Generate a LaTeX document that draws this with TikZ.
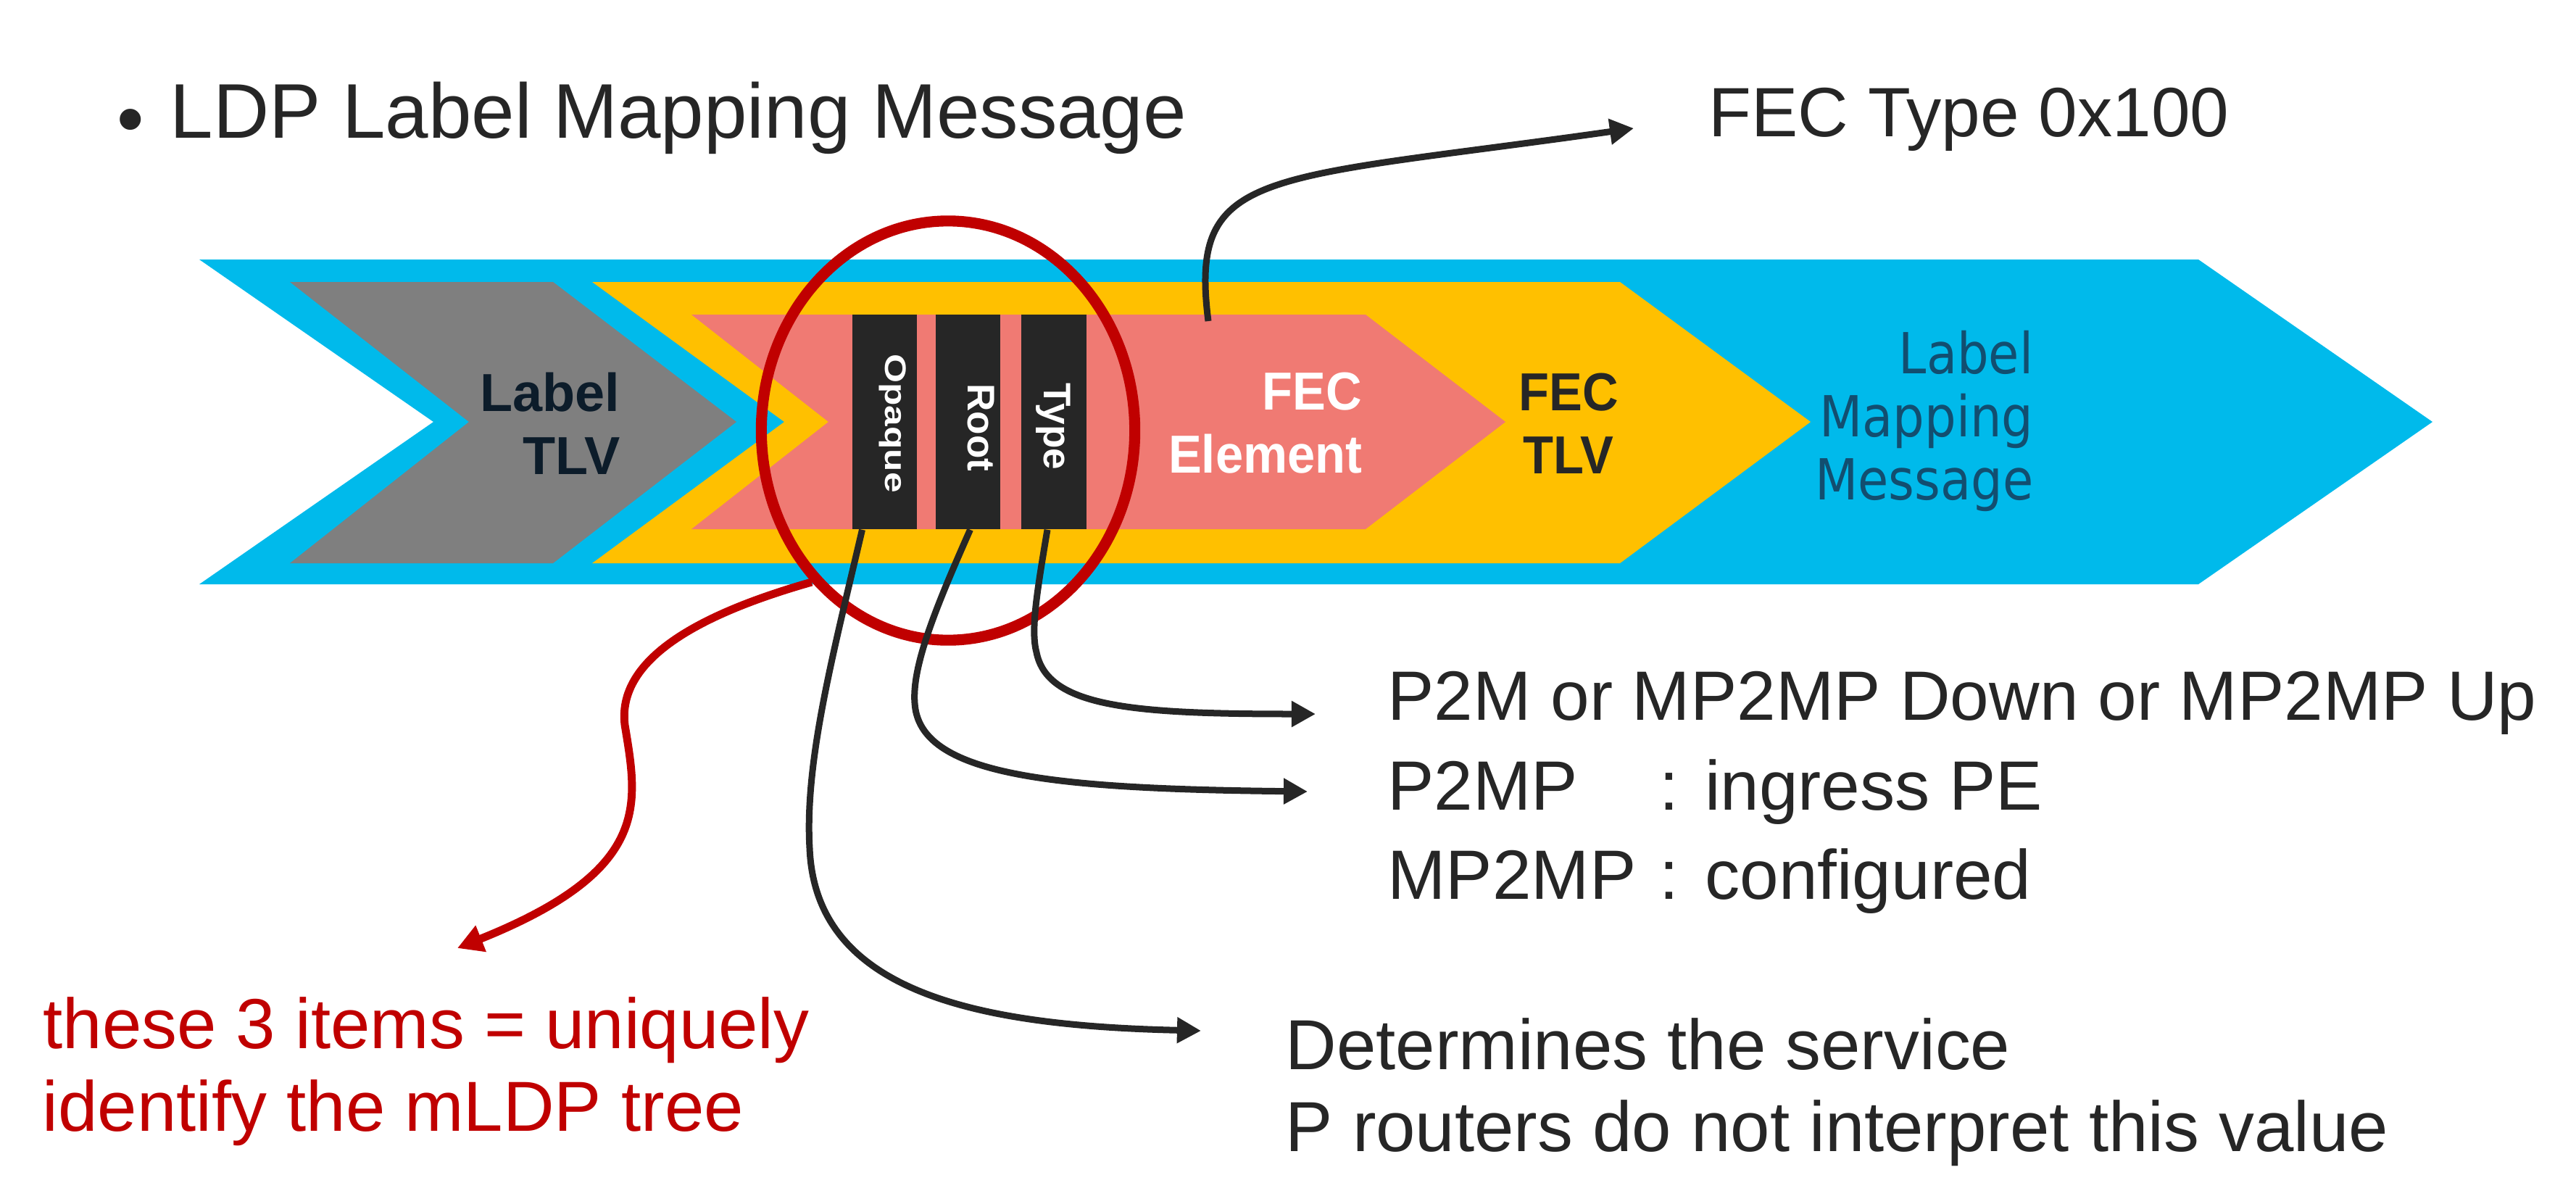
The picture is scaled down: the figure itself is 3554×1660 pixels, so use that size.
\documentclass[tikz,border=0pt]{standalone}
\usepackage{fontspec}
\setmainfont{Liberation Sans}
\newfontfamily\msgfont[FakeStretch=0.88]{DejaVu Sans}
\newfontfamily\narrowfont[FakeStretch=0.93]{Liberation Sans}
\usetikzlibrary{positioning, arrows.meta, calc, shapes.geometric}

\definecolor{msgblue}{RGB}{0,186,235}
\definecolor{tlvyellow}{RGB}{255,192,0}
\definecolor{lblgray}{RGB}{127,127,127}
\definecolor{fecpink}{RGB}{240,122,115}
\definecolor{barblack}{RGB}{38,38,38}
\definecolor{inkdark}{RGB}{38,38,38}
\definecolor{ringred}{RGB}{192,0,0}
\definecolor{msgtext}{RGB}{18,78,112}
\definecolor{tlvnavy}{RGB}{12,28,42}

\newcommand{\txtbody}{\fontsize{27.4}{32}\selectfont}
\newcommand{\txtnote}{\fontsize{27.8}{32}\selectfont}
\newcommand{\txttitle}{\fontsize{30.4}{36}\selectfont}

\begin{document}
\begin{tikzpicture}[x=0.01cm, y=-0.01cm,
    >={Triangle[length=9.4pt, width=9.7pt]},
    every node/.style={inner sep=0pt, text=inkdark},
    bar/.style={fill=barblack, minimum width=0.89cm, minimum height=2.96cm},
    bartext/.style={rotate=-90, anchor=base, text=white, font=\fontsize{15.1}{18}\selectfont\bfseries},
    boxlabel/.style={align=right, font=\fontsize{21}{24.75}\selectfont\bfseries},
    desc/.style={anchor=base west, font=\txtbody},
    conn/.style={draw=inkdark, line width=2.56pt, ->},
    redconn/.style={draw=ringred, line width=3.1pt, -{Triangle[length=10pt, width=10.5pt]}}]
    \useasboundingbox (0,0) rectangle (3554,1660);
    % Title
    \node[anchor=base, font=\txttitle] (bullet) at (180,200) {\textbullet};
    \node[anchor=base west, font=\txttitle] (title) at (234,190) {LDP Label Mapping Message};
    % Nested chevrons
    \fill[msgblue] (275,358) -- (3033,358) -- (3356,582) -- (3033,806) -- (275,806) -- (598,582) -- cycle;
    \fill[lblgray] (400,389) -- (763,389) -- (1016,582) -- (763,777) -- (400,777) -- (647,582) -- cycle;
    \fill[tlvyellow] (817,389) -- (2235,389) -- (2498,582) -- (2235,777) -- (817,777) -- (1082,582) -- cycle;
    \fill[fecpink] (954,434) -- (1884,434) -- (2077,582) -- (1884,730) -- (954,730) -- (1143,582) -- cycle;
    % Chevron labels
    \node[boxlabel, anchor=east, text=tlvnavy] (lbltlv) at (856,584) {Label\\TLV};
    \node[boxlabel, anchor=east, text=white, font=\narrowfont\fontsize{21}{24.75}\selectfont\bfseries] (fecel) at (1880,584) {FEC\\Element};
    \node[boxlabel, align=center, font=\narrowfont\fontsize{21}{24.75}\selectfont\bfseries] (fectlv) at (2164,584) {FEC\\TLV};
    \node[align=right, anchor=east, text=msgtext, font=\msgfont\fontsize{22.2}{24.75}\selectfont] (lblmsg) at (2806,581) {Label\\Mapping\\Message};
    % FEC element fields
    \node[bar] (opqbar) at (1220.5,582) {};
    \node[bar] (rootbar) at (1335.5,582) {};
    \node[bar] (typebar) at (1454,582) {};
    \node[bartext, font=\fontsize{11.7}{14}\selectfont\bfseries] (opqlbl) at (1221,584) {\scalebox{1.25}[1]{Opaque}};
    \node[bartext] (rootlbl) at (1335,590) {Root};
    \node[bartext] (typelbl) at (1440,588) {Type};
    % Red ring round the three fields
    \node[ellipse, draw=ringred, line width=4.3pt, minimum width=5.15cm, minimum height=5.78cm] (ring) at (1308,594) {};
    % Descriptions
    \node[desc, font=\fontsize{27.4}{32}\selectfont] (fectype) at (2357,188) {FEC Type 0x100};
    \node[desc] (typedesc) at (1914,993) {P2M or MP2MP Down or MP2MP Up};
    \node[desc] (rootdesc1) at (1914,1117) {\makebox[3.75cm][l]{P2MP}: ingress PE};
    \node[desc] (rootdesc2) at (1914,1240) {\makebox[3.75cm][l]{MP2MP}: configured};
    \node[desc, font=\txtnote] (opqdesc1) at (1773,1475) {Determines the service};
    \node[desc, font=\txtnote] (opqdesc2) at (1773,1588) {P routers do not interpret this value};
    \node[desc, font=\txtnote, text=ringred] (uniq1) at (59,1446) {these 3 items = uniquely};
    \node[desc, font=\txtnote, text=ringred] (uniq2) at (58,1560) {identify the mLDP tree};
    % Arrow ends
    \coordinate (fecstart) at (1667,443);
    \coordinate (fecend) at (2254,177);
    \coordinate (typeend) at (1815,985);
    \coordinate (rootend) at (1804,1092);
    \coordinate (opqend) at (1657,1422);
    \coordinate (uniqend) at (631,1308);
    % Connectors
    \draw[conn] (fecstart) .. controls (1640,230) and (1740,250) .. (fecend);
    \draw[conn] ($(typebar.south)+(-9,0)$) .. controls (1430,820) and (1422,870) .. (1430,900)
        .. controls (1445,975) and (1560,985) .. (typeend);
    \draw[conn] ($(rootbar.south)+(3,0)$) .. controls (1290,840) and (1258,920) .. (1262,970)
        .. controls (1268,1070) and (1450,1088) .. (rootend);
    \draw[conn] ($(opqbar.south)+(-31,0)$) .. controls (1150,900) and (1110,1050) .. (1117,1170)
        .. controls (1125,1370) and (1350,1415) .. (opqend);
    \draw[redconn] (ring.228) .. controls (990,840) and (850,900) .. (862,1000)
        .. controls (880,1110) and (900,1200) .. (uniqend);
\end{tikzpicture}
\end{document}
